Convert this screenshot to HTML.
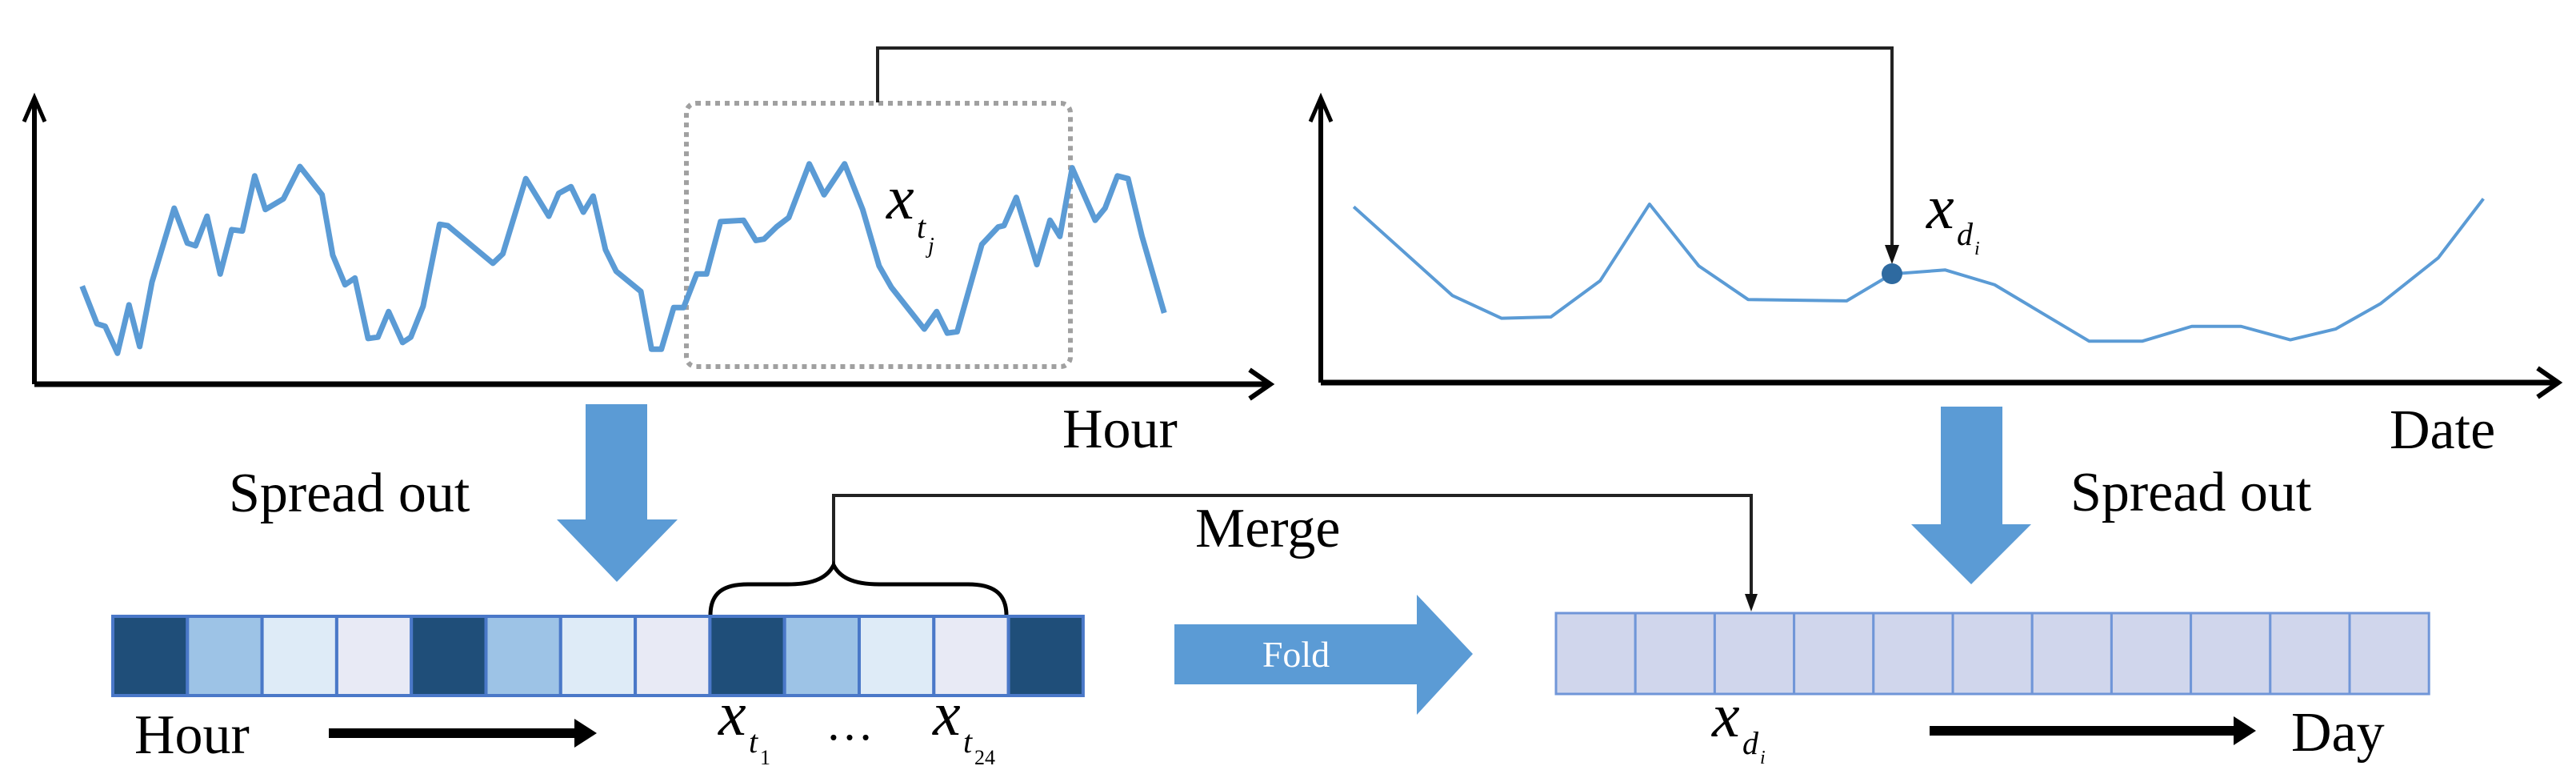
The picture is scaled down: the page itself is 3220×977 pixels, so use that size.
<!DOCTYPE html>
<html><head><meta charset="utf-8"><style>
html,body{margin:0;padding:0;background:#fff;}
svg{display:block;}
text{font-family:"Liberation Serif",serif;fill:#000;}
</style></head><body>
<svg width="3220" height="977" viewBox="0 0 3220 977" xmlns="http://www.w3.org/2000/svg">
<defs>
<marker id="ah" markerWidth="8" markerHeight="8" refX="6" refY="4" orient="auto" markerUnits="userSpaceOnUse">
</marker>
</defs>
<!-- left chart axes -->
<line x1="43" y1="480" x2="43" y2="126" stroke="#000" stroke-width="6"/>
<polyline points="30,152 43,122 56,152" fill="none" stroke="#000" stroke-width="5"/>
<line x1="43" y1="480" x2="1585" y2="480" stroke="#000" stroke-width="7"/>
<polyline points="1562,462 1588,480 1562,498" fill="none" stroke="#000" stroke-width="6"/>
<!-- dotted box -->
<rect x="858" y="129" width="480" height="329" rx="12" fill="none" stroke="#a0a0a0" stroke-width="6" stroke-dasharray="6,6"/>
<!-- hourly series -->
<g transform="scale(1.027,0.3356)">
<polyline fill="none" stroke="#5b9bd5" stroke-width="7" vector-effect="non-scaling-stroke" stroke-linejoin="round" points="100,1065 118,1205 128,1215 143,1315 157,1135 170,1290 185,1050 212,775 228,905 238,915 252,805 268,1020 282,855 295,860 310,655 323,780 345,740 365,620 392,725 405,950 420,1060 432,1035 448,1260 460,1255 473,1160 490,1275 500,1255 515,1140 535,835 545,840 600,980 612,945 640,665 668,805 680,720 695,695 710,790 722,730 737,930 750,1010 780,1085 793,1300 805,1300 820,1145 832,1145 848,1020 860,1020 877,825 905,820 920,895 930,890 945,845 960,810 985,610 1003,725 1028,610 1050,780 1070,990 1085,1070 1125,1225 1140,1160 1153,1240 1165,1235 1195,910 1215,845 1222,840 1237,735 1262,985 1278,820 1290,880 1305,625 1333,820 1345,775 1360,655 1373,665 1390,880 1417,1165"/>
</g>
<text x="1108" y="273" font-size="78" font-style="italic">x</text>
<text x="1146" y="297" font-size="40" font-style="italic">t</text>
<text x="1160" y="316" font-size="28" font-style="italic">j</text>
<!-- top connector -->
<polyline points="1097,128 1097,60 2365,60 2365,310" fill="none" stroke="#222" stroke-width="4"/>
<polygon points="2356,306 2374,306 2365,330" fill="#111"/>
<!-- right chart axes -->
<line x1="1651" y1="478" x2="1651" y2="126" stroke="#000" stroke-width="6"/>
<polyline points="1638,152 1651,122 1664,152" fill="none" stroke="#000" stroke-width="5"/>
<line x1="1651" y1="478" x2="3195" y2="478" stroke="#000" stroke-width="7"/>
<polyline points="3172,460 3198,478 3172,496" fill="none" stroke="#000" stroke-width="6"/>
<g transform="translate(1610,0) scale(1.027,0.3356)">
<polyline fill="none" stroke="#5b9bd5" stroke-width="4" vector-effect="non-scaling-stroke" stroke-linejoin="round" points="80,770 200,1100 260,1185 320,1180 380,1045 440,760 500,990 560,1115 680,1120 735,1020 800,1005 860,1060 975,1270 1040,1270 1100,1215 1160,1215 1220,1265 1275,1225 1330,1130 1400,960 1455,740"/>
</g>
<circle cx="2365" cy="342" r="13" fill="#2e6aa0"/>
<text x="2408" y="285" font-size="78" font-style="italic">x</text>
<text x="2446" y="306" font-size="40" font-style="italic">d</text>
<text x="2468" y="318" font-size="24" font-style="italic">i</text>
<!-- labels top -->
<text x="1328" y="559" font-size="70">Hour</text>
<text x="2987" y="560" font-size="70">Date</text>
<text x="286" y="639" font-size="70">Spread out</text>
<text x="2588" y="638" font-size="70">Spread out</text>
<text x="1494" y="683" font-size="70">Merge</text>
<!-- blue down arrows -->
<polygon points="732,505 809,505 809,649 847,649 771,727 696,649 732,649" fill="#5b9bd5"/>
<polygon points="2426,508 2503,508 2503,655 2539,655 2464,730 2389,655 2426,655" fill="#5b9bd5"/>
<!-- merge connector -->
<polyline points="1042,708 1042,619 2189,619 2189,745" fill="none" stroke="#222" stroke-width="4"/>
<polygon points="2181,742 2197,742 2189,764" fill="#111"/>
<path d="M888,769 C888,740 905,730 935,730 L985,730 C1020,730 1035,720 1042,706 C1049,720 1064,730 1099,730 L1210,730 C1240,730 1258,740 1258,769" fill="none" stroke="#000" stroke-width="5"/>
<!-- hourly bar -->
<g stroke="#4a78c8" stroke-width="4">
<rect x="141" y="770" width="93.3" height="99" fill="#1f4e79"/>
<rect x="234.3" y="770" width="93.3" height="99" fill="#9dc3e6"/>
<rect x="327.6" y="770" width="93.3" height="99" fill="#deebf7"/>
<rect x="420.9" y="770" width="93.3" height="99" fill="#e8eaf5"/>
<rect x="514.2" y="770" width="93.3" height="99" fill="#1f4e79"/>
<rect x="607.5" y="770" width="93.3" height="99" fill="#9dc3e6"/>
<rect x="700.8" y="770" width="93.3" height="99" fill="#deebf7"/>
<rect x="794.1" y="770" width="93.3" height="99" fill="#e8eaf5"/>
<rect x="887.4" y="770" width="93.3" height="99" fill="#1f4e79"/>
<rect x="980.7" y="770" width="93.3" height="99" fill="#9dc3e6"/>
<rect x="1074" y="770" width="93.3" height="99" fill="#deebf7"/>
<rect x="1167.3" y="770" width="93.3" height="99" fill="#e8eaf5"/>
<rect x="1260.6" y="770" width="93.3" height="99" fill="#1f4e79"/>
</g>
<!-- fold arrow -->
<polygon points="1468,780 1771,780 1771,743 1841,817 1771,893 1771,855 1468,855" fill="#5b9bd5"/>
<text x="1620" y="833" font-size="46" fill="#fff" style="fill:#fff" text-anchor="middle">Fold</text>
<!-- day bar -->
<g stroke="#7096d8" stroke-width="3" fill="#d0d6ec">
<rect x="1945" y="766" width="99.2" height="101"/>
<rect x="2044.2" y="766" width="99.2" height="101"/>
<rect x="2143.4" y="766" width="99.2" height="101"/>
<rect x="2242.6" y="766" width="99.2" height="101"/>
<rect x="2341.8" y="766" width="99.2" height="101"/>
<rect x="2441" y="766" width="99.2" height="101"/>
<rect x="2540.2" y="766" width="99.2" height="101"/>
<rect x="2639.4" y="766" width="99.2" height="101"/>
<rect x="2738.6" y="766" width="99.2" height="101"/>
<rect x="2837.8" y="766" width="99.2" height="101"/>
<rect x="2937" y="766" width="99.2" height="101"/>
</g>
<!-- bottom labels -->
<text x="168" y="941" font-size="70">Hour</text>
<line x1="411" y1="916" x2="725" y2="916" stroke="#000" stroke-width="12"/>
<polygon points="718,898 746,916 718,934" fill="#000"/>
<text x="898" y="918" font-size="78" font-style="italic">x</text>
<text x="936" y="940" font-size="40" font-style="italic">t</text>
<text x="950" y="955" font-size="26">1</text>
<text x="1032" y="924" font-size="60">…</text>
<text x="1166" y="918" font-size="78" font-style="italic">x</text>
<text x="1204" y="940" font-size="40" font-style="italic">t</text>
<text x="1218" y="955" font-size="26">24</text>
<text x="2140" y="920" font-size="78" font-style="italic">x</text>
<text x="2178" y="942" font-size="40" font-style="italic">d</text>
<text x="2200" y="954" font-size="24" font-style="italic">i</text>
<line x1="2412" y1="913" x2="2800" y2="913" stroke="#000" stroke-width="12"/>
<polygon points="2792,895 2820,913 2792,931" fill="#000"/>
<text x="2864" y="938" font-size="70">Day</text>
</svg>
</body></html>
